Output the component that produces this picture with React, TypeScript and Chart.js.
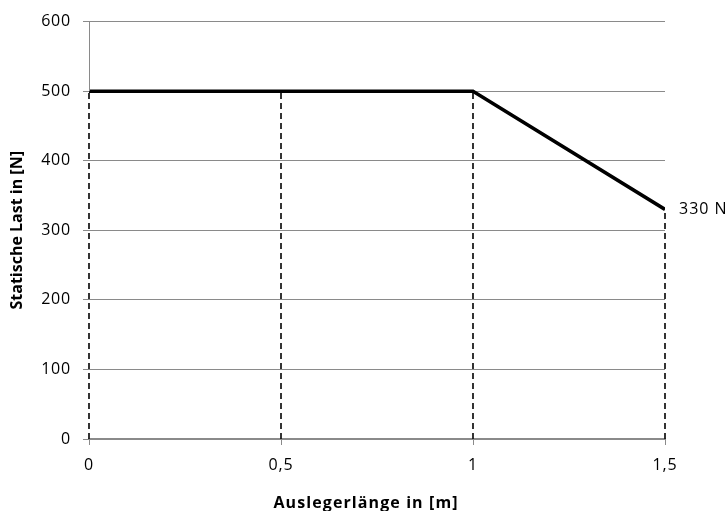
import React, { useEffect, useRef } from "react";
import { Chart, registerables } from "chart.js";

Chart.register(...registerables);

// Data
const lengths = [0, 1, 1.5]; // Auslegerlänge in m
const loads = [500, 500, 330]; // Statische Last in N
const dropX = [0, 0.5, 1, 1.5];
const dropY = [500, 500, 500, 330];
const endLabel = "330 N";
const xTitle = "Auslegerlänge in [m]";
const yTitle = "Statische Last in [N]";

const FONT = "'Open Sans', 'Noto Sans', sans-serif";
const GRID = "#8a8a8a";

const spacing = {
  id: "spacing",
  beforeDraw(chart: any) {
    chart.ctx.letterSpacing = "0.8px";
  },
};

const overlay = {
  id: "overlay",
  afterDatasetsDraw(chart: any) {
    const { ctx, chartArea, scales } = chart;
    const xs = scales.x;
    const ys = scales.y;
    ctx.save();
    // left axis line above the first drop line
    const lx = Math.round(xs.getPixelForValue(dropX[0])) + 0.5;
    ctx.strokeStyle = GRID;
    ctx.lineWidth = 1;
    ctx.setLineDash([]);
    ctx.beginPath();
    ctx.moveTo(lx, chartArea.top);
    ctx.lineTo(lx, ys.getPixelForValue(dropY[0]));
    ctx.stroke();
    // end label
    const last = lengths.length - 1;
    ctx.fillStyle = "#000";
    ctx.letterSpacing = "1px";
    ctx.font = `16px ${FONT}`;
    ctx.textAlign = "left";
    ctx.textBaseline = "middle";
    ctx.fillText(endLabel, xs.getPixelForValue(lengths[last]) + 14, ys.getPixelForValue(loads[last]));
    // titles
    ctx.font = `bold 16px ${FONT}`;
    ctx.textAlign = "center";
    ctx.letterSpacing = "1.1px";
    ctx.fillText(xTitle, chart.width / 2 + 2, chart.height - 8);
    ctx.letterSpacing = "0px";
    ctx.translate(17.5, (chartArea.top + chartArea.bottom) / 2);
    ctx.rotate(-Math.PI / 2);
    ctx.fillText(yTitle, 0, 0);
    ctx.restore();
  },
};

export default function App() {
  const ref = useRef<HTMLCanvasElement>(null);
  useEffect(() => {
    if (!ref.current) return;
    Chart.defaults.font.family = FONT;
    Chart.defaults.font.size = 16;
    Chart.defaults.color = "#000";
    const datasets: any[] = [
      {
        data: lengths.map((x, i) => ({ x, y: loads[i] })),
        borderColor: "#000",
        borderWidth: 3.5,
        pointRadius: 0,
        tension: 0,
      },
      ...dropX.map((x, i) => ({
        data: [
          { x, y: 0 },
          { x, y: dropY[i] },
        ],
        borderColor: "#111",
        borderWidth: 1.7,
        borderDash: [6, 4],
        pointRadius: 0,
        clip: false,
      })),
    ];
    const chart = new Chart(ref.current, {
      type: "line",
      data: { datasets },
      options: {
        animation: false,
        responsive: false,
        layout: { padding: { top: 20, right: 63, left: 0, bottom: 0 } },
        plugins: { legend: { display: false }, tooltip: { enabled: false } },
        scales: {
          x: {
            type: "linear",
            min: 0,
            max: 1.5,
            afterFit: (s: any) => {
              s.height = 72;
            },
            ticks: {
              stepSize: 0.5,
              padding: 11,
              maxRotation: 0,
              callback: (v: any) => String(v).replace(".", ","),
            },
            grid: { drawOnChartArea: false, drawTicks: true, tickLength: 6, color: GRID },
            border: { display: true, color: GRID, width: 2 },
          },
          y: {
            min: 0,
            max: 600,
            afterFit: (s: any) => {
              s.width = 89;
            },
            ticks: { stepSize: 100, padding: 12 },
            grid: { color: GRID, tickLength: 6, drawTicks: true },
            border: { display: false },
          },
        },
      },
      plugins: [spacing, overlay],
    });
    return () => chart.destroy();
  }, []);
  return (
    <div style={{ position: "absolute", left: 0, top: 0, width: 728, height: 511, background: "#fff" }}>
      <canvas ref={ref} width={728} height={511} />
    </div>
  );
}
